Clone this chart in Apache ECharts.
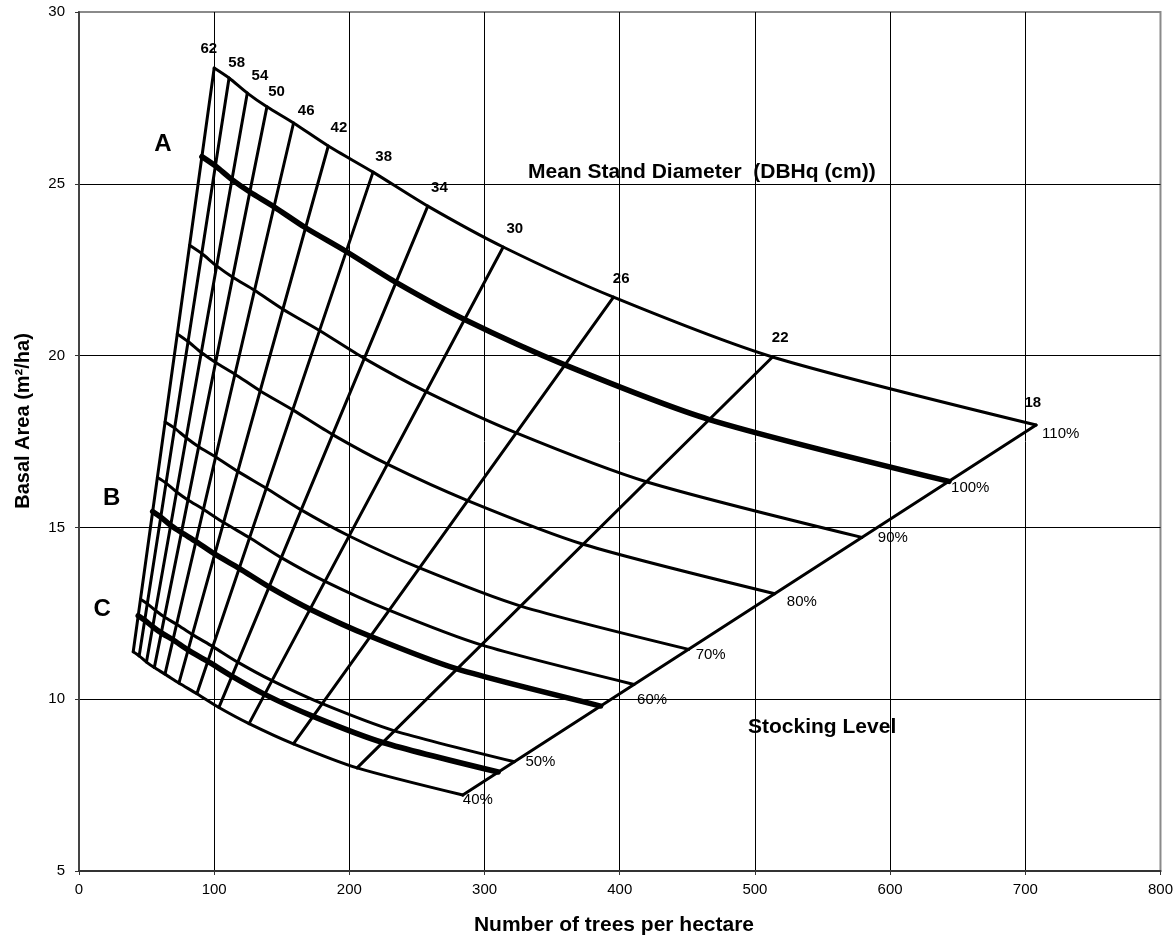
<!DOCTYPE html>
<html><head><meta charset="utf-8">
<script src="https://cdn.jsdelivr.net/npm/echarts@6/dist/echarts.min.js"></script>
<style>html,body{margin:0;padding:0;background:#fff}#c{width:1176px;height:939px}</style>
</head><body><div id="c"></div>
<script>
// ---------- data (trees/ha, basal area m2/ha) ----------
// mean stand diameter lines (cm), ordered left -> right
const diameters = [62, 58, 54, 50, 46, 42, 38, 34, 30, 26, 22, 18];
// each stocking curve: its crossing with each diameter line above (62 -> 18 cm)
const stock110 = [[100.0,28.37],[111.0,28.08],[124.5,27.64],[139.0,27.24],[158.7,26.77],[184.4,26.10],[217.5,25.34],[258.0,24.35],[313.8,23.16],[395.4,21.70],[513.0,19.96],[708.0,17.98]];
const stock100 = [[90.9,25.79],[100.9,25.52],[113.2,25.12],[126.4,24.76],[144.3,24.33],[167.6,23.72],[197.7,23.03],[234.5,22.13],[285.2,21.05],[359.4,19.73],[466.3,18.14],[643.6,16.34]];
const stock90  = [[81.8,23.21],[90.8,22.97],[101.8,22.61],[113.7,22.28],[129.8,21.90],[150.8,21.35],[177.9,20.73],[211.0,19.92],[256.7,18.95],[323.4,17.75],[419.6,16.33],[579.1,14.71]];
const stock80  = [[72.7,20.63],[80.7,20.41],[90.5,20.09],[101.1,19.80],[115.4,19.46],[134.1,18.97],[158.1,18.42],[187.6,17.70],[228.1,16.84],[287.5,15.78],[372.9,14.51],[514.7,13.07]];
const stock70  = [[63.7,18.07],[70.7,17.89],[79.3,17.61],[88.5,17.35],[101.1,17.05],[117.5,16.63],[138.5,16.14],[164.3,15.51],[199.9,14.75],[251.9,13.82],[326.8,12.71],[451.0,11.45]];
const stock60  = [[58.0,16.45],[64.4,16.29],[72.2,16.03],[80.6,15.80],[92.0,15.53],[107.0,15.14],[126.2,14.70],[149.6,14.12],[182.0,13.43],[229.3,12.59],[297.5,11.58],[410.6,10.43]];
const zoneB    = [[54.5,15.46],[60.5,15.30],[67.9,15.06],[75.8,14.85],[86.5,14.59],[100.5,14.22],[118.5,13.81],[140.6,13.27],[171.0,12.62],[215.5,11.83],[279.6,10.88],[385.9,9.80]];
const stock50  = [[45.5,12.91],[50.5,12.78],[56.6,12.58],[63.2,12.39],[72.2,12.18],[83.9,11.88],[99.0,11.53],[117.4,11.08],[142.8,10.54],[179.9,9.87],[233.4,9.08],[322.1,8.18]];
const zoneC    = [[43.8,12.43],[48.6,12.30],[54.5,12.11],[60.9,11.93],[69.5,11.73],[80.8,11.43],[95.3,11.10],[113.0,10.67],[137.4,10.14],[173.2,9.50],[224.7,8.74],[310.1,7.88]];
const stock40  = [[40.1,11.38],[44.5,11.26],[49.9,11.08],[55.7,10.92],[63.6,10.73],[73.9,10.47],[87.2,10.16],[103.5,9.76],[125.8,9.29],[158.6,8.70],[205.7,8.00],[283.9,7.21]];

const stockCurves = [stock110, stock100, stock90, stock80, stock70, stock60, zoneB, stock50, zoneC, stock40];
const stockLabels = ['110%', '100%', '90%', '80%', '70%', '60%', '', '50%', '', '40%'];
const zoneCurves = [stock100, zoneB, zoneC];
const zoneLetters = ['A', 'B', 'C'];

const xTicks = [0, 800, 100];   // min, max, interval
const yTicks = [5, 30, 5];

const xTitle = 'Number of trees per hectare';
const yTitle = 'Basal Area (m\u00B2/ha)';
const diaTitle = 'Mean Stand Diameter  (DBHq (cm))';
const stockTitle = 'Stocking Level';

// ---------- styles ----------
const FONT = '"Liberation Sans", Arial, Helvetica, sans-serif';
const curveWidth = [3, 5.5, 3, 3, 3, 3, 5.5, 3, 5.5, 3];
const stockLabelPos = [[6,9],[2,7],[16,0],[12,8],[7,5],[3,15],[0,0],[11,0],[0,0],[0,5]];
const diaLabelPos = [[3,-19],[16,-15],[21,-17],[18,-15],[21,-12],[19,-18],[19,-15],[20,-18],[20,-18],[16,-18],[16,-19],[5,-22]];
const zoneLetterPos = [[-39,-12],[-41,-13],[-36,-6]];

const series = [];
stockCurves.forEach((c, i) => {
  series.push({
    type: 'line', data: c, symbol: 'none', showSymbol: false, silent: true, smooth: 0.25,
    lineStyle: { color: '#000', width: curveWidth[i], join: 'round', cap: 'round' }, z: 3
  });
});
diameters.forEach((d, i) => {
  series.push({
    type: 'line', data: [stock110[i], stock40[i]], symbol: 'none', showSymbol: false, silent: true,
    lineStyle: { color: '#000', width: 3, cap: 'round' }, z: 3
  });
});

const chart = echarts.init(document.getElementById('c'));
chart.setOption({
  animation: false,
  backgroundColor: '#fff',
  grid: { left: 79, right: 9, top: 12, bottom: 68, show: true, borderColor: '#8a8a8a', borderWidth: 2, backgroundColor: 'transparent' },
  xAxis: {
    type: 'value', min: xTicks[0], max: xTicks[1], interval: xTicks[2],
    axisLine: { show: true, onZero: false, lineStyle: { color: '#333', width: 2 } },
    axisTick: { show: true, length: 4, lineStyle: { color: '#333' } },
    axisLabel: { fontSize: 15, color: '#000', margin: 11, fontFamily: FONT },
    splitLine: { show: true, showMinLine: false, showMaxLine: false, lineStyle: { color: '#000', width: 1 } }
  },
  yAxis: {
    type: 'value', min: yTicks[0], max: yTicks[1], interval: yTicks[2],
    axisLine: { show: true, onZero: false, lineStyle: { color: '#444', width: 2 } },
    axisTick: { show: true, length: 4, lineStyle: { color: '#333' } },
    axisLabel: { fontSize: 15, color: '#000', margin: 14, fontFamily: FONT },
    splitLine: { show: true, showMinLine: false, showMaxLine: false, lineStyle: { color: '#000', width: 1 } }
  },
  series: series
});

// ---------- texts placed through the chart's own scales ----------
function txt(x, y, text, font, align, rot) {
  return { type: 'text', x: x, y: y, rotation: rot || 0, z: 10, silent: true,
    style: { text: text, font: font, fill: '#000', align: align, verticalAlign: 'middle', textAlign: align, textVerticalAlign: 'middle' } };
}
const g = [];
diameters.forEach((d, i) => {
  const p = chart.convertToPixel({ gridIndex: 0 }, stock110[i]);
  g.push(txt(p[0] + diaLabelPos[i][0], p[1] + diaLabelPos[i][1], String(d), 'bold 15px ' + FONT, 'right'));
});
stockCurves.forEach((c, i) => {
  if (!stockLabels[i]) return;
  const p = chart.convertToPixel({ gridIndex: 0 }, c[c.length - 1]);
  g.push(txt(p[0] + stockLabelPos[i][0], p[1] + stockLabelPos[i][1], stockLabels[i], '15px ' + FONT, 'left'));
});
zoneCurves.forEach((c, i) => {
  const p = chart.convertToPixel({ gridIndex: 0 }, c[0]);
  g.push(txt(p[0] + zoneLetterPos[i][0], p[1] + zoneLetterPos[i][1], zoneLetters[i], 'bold 24px ' + FONT, 'center'));
});
g.push(txt(614, 925, xTitle, 'bold 21px ' + FONT, 'center'));
g.push(txt(23, 421, yTitle, 'bold 20px ' + FONT, 'center', Math.PI / 2));
g.push(txt(528, 172, diaTitle, 'bold 21px ' + FONT, 'left'));
g.push(txt(748, 727, stockTitle, 'bold 21px ' + FONT, 'left'));
chart.setOption({ graphic: g });
</script>
</body></html>
